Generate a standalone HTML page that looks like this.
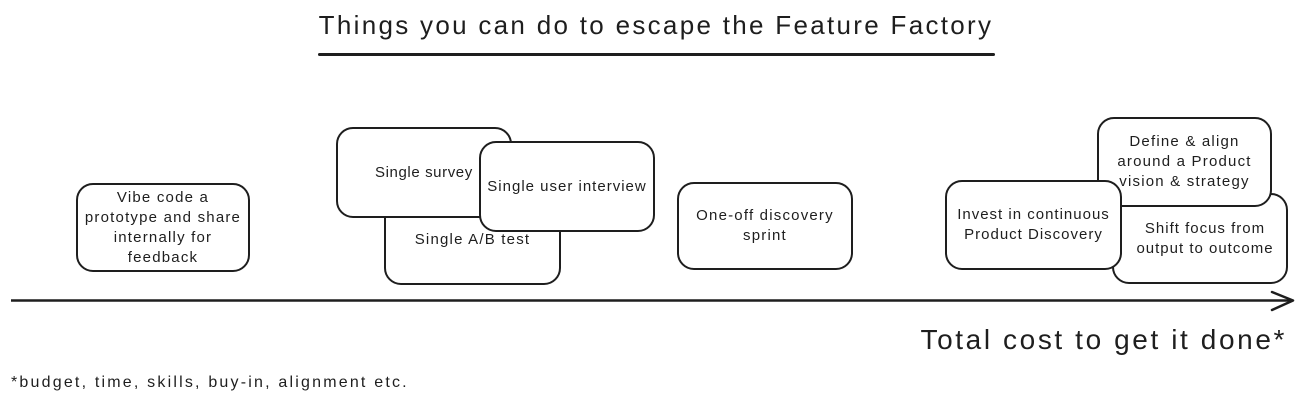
<!DOCTYPE html>
<html><head><meta charset="utf-8"><style>
html,body{margin:0;padding:0;background:#fff;}
body{width:1305px;height:408px;position:relative;overflow:hidden;font-family:"Liberation Sans",sans-serif;color:#1e1e1e;}
.b{position:absolute;box-sizing:border-box;border:2px solid #1e1e1e;border-radius:17px;background:#fff;display:flex;align-items:center;justify-content:center;text-align:center;font-size:15px;line-height:20px;letter-spacing:1.2px;white-space:nowrap;}
.t{position:absolute;white-space:nowrap;}
</style></head><body>
<div class="t" style="left:300px;top:10px;width:712px;text-align:center;font-size:26px;letter-spacing:2.3px;">Things you can do to escape the Feature Factory</div>
<div style="position:absolute;left:318px;top:53px;width:677px;height:3px;background:#1e1e1e;border-radius:2px;"></div>

<div class="b" style="left:76px;top:183px;width:174px;height:89px;">Vibe code a<br>prototype and share<br>internally for<br>feedback</div>

<div class="b" style="left:384px;top:196px;width:177px;height:89px;align-items:flex-start;padding-top:32px;">Single A/B test</div>
<div class="b" style="left:336px;top:127px;width:176px;height:91px;justify-content:flex-start;padding-left:37px;letter-spacing:0.6px;">Single survey</div>
<div class="b" style="left:479px;top:141px;width:176px;height:91px;letter-spacing:1px;">Single user interview</div>

<div class="b" style="left:677px;top:182px;width:176px;height:88px;">One-off discovery<br>sprint</div>

<div class="b" style="left:1112px;top:193px;width:176px;height:91px;padding-left:10px;letter-spacing:1px;">Shift focus from<br>output to outcome</div>
<div class="b" style="left:1097px;top:117px;width:175px;height:90px;">Define &amp; align<br>around a Product<br>vision &amp; strategy</div>
<div class="b" style="left:945px;top:180px;width:177px;height:90px;letter-spacing:1px;">Invest in continuous<br>Product Discovery</div>

<svg style="position:absolute;left:0;top:0" width="1305" height="408">
<line x1="11" y1="300.5" x2="1292" y2="300.5" stroke="#1e1e1e" stroke-width="2.5"/>
<polyline points="1272,292 1293,300.5 1272,310" fill="none" stroke="#1e1e1e" stroke-width="2.5" stroke-linecap="round" stroke-linejoin="round"/>
</svg>

<div class="t" style="right:18px;top:324px;font-size:28px;letter-spacing:2.6px;">Total cost to get it done*</div>
<div class="t" style="left:11px;top:374px;font-size:16px;letter-spacing:2.2px;">*budget, time, skills, buy-in, alignment etc.</div>
</body></html>
